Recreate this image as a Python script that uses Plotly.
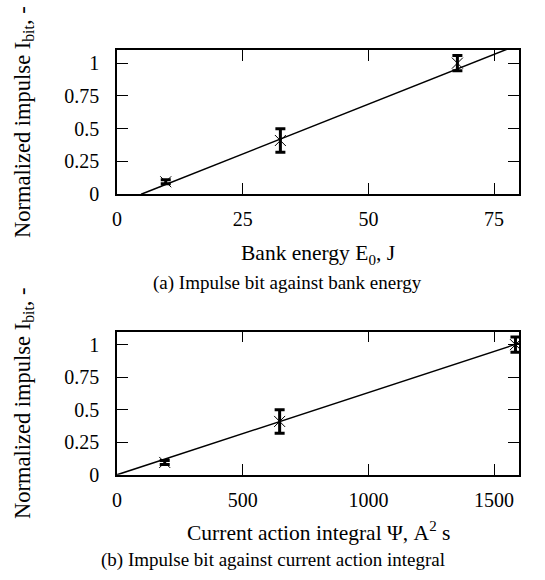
import plotly.graph_objects as go

# ---- data ----
energy_J = [9.7, 32.5, 67.7]
action_A2s = [190, 647, 1585]
impulse_norm = [0.095, 0.41, 1.0]
impulse_err = [0.015, 0.09, 0.058]

fit_energy_slope = 0.0152
fit_energy_intercept = -0.073
fit_action_slope = 0.000632
fit_action_intercept = 0.0

y_tickvals = [0, 0.25, 0.5, 0.75, 1]
y_ticktext = ["0", "0.25", "0.5", "0.75", "1"]
energy_tickvals = [0, 25, 50, 75]
action_tickvals = [0, 500, 1000, 1500]

energy_range = [0, 80]
action_range = [0, 1600]
y_range = [0, 1.1]

FONT = "Liberation Serif, Times New Roman, serif"
W, H = 545, 580

fig = go.Figure()

def add_panel(xs, xaxis, yaxis, slope, intercept, xrange):
    x0 = max(xrange[0], -intercept / slope) if slope else xrange[0]
    fx = [x0, xrange[1]]
    fy = [slope * v + intercept for v in fx]
    fig.add_trace(go.Scatter(x=fx, y=fy, mode="lines", xaxis=xaxis, yaxis=yaxis,
                             line=dict(color="black", width=1.5), showlegend=False,
                             hoverinfo="skip"))
    fig.add_trace(go.Scatter(x=xs, y=impulse_norm, mode="markers", xaxis=xaxis, yaxis=yaxis,
                             marker=dict(symbol="x-thin", size=11, color="black",
                                         line=dict(color="black", width=1)),
                             error_y=dict(type="data", array=impulse_err, visible=True,
                                          color="black", thickness=3, width=5),
                             showlegend=False))

add_panel(energy_J, "x", "y", fit_energy_slope, fit_energy_intercept, energy_range)
add_panel(action_A2s, "x2", "y2", fit_action_slope, fit_action_intercept, action_range)

def px_x(p):
    return p / W

def px_y(p):
    return 1 - p / H

left, right = 113, 519
top_a, bot_a = 51, 198
top_b, bot_b = 338, 484

common = dict(showline=True, linecolor="black", linewidth=1.5, mirror="ticks",
              ticks="inside", ticklen=11, tickwidth=1, tickcolor="black",
              showgrid=False, zeroline=False,
              tickfont=dict(family=FONT, size=20, color="black"))

fig.update_layout(
    width=W, height=H, margin=dict(l=0, r=0, t=0, b=0),
    paper_bgcolor="white", plot_bgcolor="white",
    xaxis=dict(domain=[px_x(left), px_x(right)], range=energy_range, anchor="y",
               tickvals=energy_tickvals, ticklabelstandoff=6, **common),
    yaxis=dict(domain=[px_y(bot_a), px_y(top_a)], range=y_range, anchor="x",
               tickvals=y_tickvals, ticktext=y_ticktext, ticklabelstandoff=12, **common),
    xaxis2=dict(domain=[px_x(left), px_x(right)], range=action_range, anchor="y2",
                tickvals=action_tickvals, ticklabelstandoff=6, **common),
    yaxis2=dict(domain=[px_y(bot_b), px_y(top_b)], range=y_range, anchor="x2",
                tickvals=y_tickvals, ticktext=y_ticktext, ticklabelstandoff=12, **common),
)

title_font = dict(family=FONT, size=21.5, color="black")
ytitle_font = dict(family=FONT, size=22.5, color="black")
cap_font = dict(family=FONT, size=19, color="black")
cx = (left + right) / 2
ann = [
    dict(text="Bank energy E<sub>0</sub>, J", x=px_x(cx), y=px_y(259), font=title_font),
    dict(text="(a) Impulse bit against bank energy", x=px_x(285), y=px_y(288), font=cap_font),
    dict(text="Current action integral Ψ, A<sup>2</sup> s", x=px_x(cx), y=px_y(542), font=title_font),
    dict(text="(b) Impulse bit against current action integral", x=px_x(270), y=px_y(571), font=cap_font),
    dict(text="Normalized impulse I<sub>bit</sub>, -", x=px_x(19), y=px_y((top_a + bot_a) / 2),
         textangle=-90, font=ytitle_font),
    dict(text="Normalized impulse I<sub>bit</sub>, -", x=px_x(19), y=px_y((top_b + bot_b) / 2),
         textangle=-90, font=ytitle_font),
]
for a in ann:
    fig.add_annotation(xref="paper", yref="paper", showarrow=False,
                       xanchor="center", yanchor="middle", **a)

fig.write_html("out.html", config={"displayModeBar": False},
               post_script="document.body.style.margin='0';document.body.style.overflow='hidden';")
